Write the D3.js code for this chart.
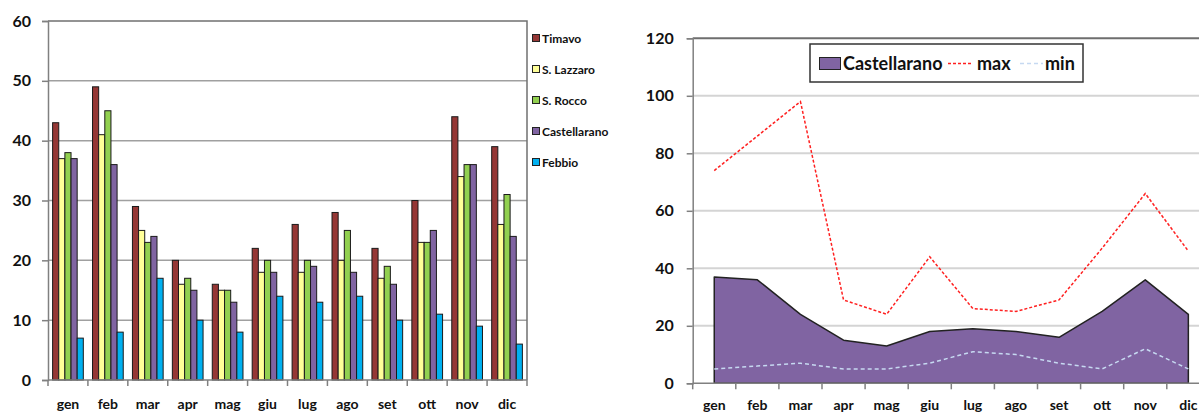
<!DOCTYPE html>
<html>
<head>
<meta charset="utf-8">
<script src="https://cdn.jsdelivr.net/npm/d3@7"></script>
<style>
  html, body { margin: 0; padding: 0; background: #fff; }
  svg { display: block; font-family: Lato, "Open Sans", sans-serif; font-weight: bold; }
</style>
</head>
<body>
<svg id="chart" width="1199" height="412"></svg>
<script>
// Monthly data per station
const months = ["gen", "feb", "mar", "apr", "mag", "giu", "lug", "ago", "set", "ott", "nov", "dic"];
const stations = ["Timavo", "S. Lazzaro", "S. Rocco", "Castellarano", "Febbio"];
const stationColors = ["#953735", "#FFFF99", "#92D050", "#8064A2", "#00B0F0"];

const timavo       = [43, 49, 29, 20, 16, 22, 26, 28, 22, 30, 44, 39];
const sLazzaro     = [37, 41, 25, 16, 15, 18, 18, 20, 17, 23, 34, 26];
const sRocco       = [38, 45, 23, 17, 15, 20, 20, 25, 19, 23, 36, 31];
const castellarano = [37, 36, 24, 15, 13, 18, 19, 18, 16, 25, 36, 24];
const febbio       = [7, 8, 17, 10, 8, 14, 13, 14, 10, 11, 9, 6];

// Castellarano extremes
const castMax = [74, 86, 98, 29, 24, 44, 26, 25, 29, 47, 66, 46];
const castMin = [5, 6, 7, 5, 5, 7, 11, 10, 7, 5, 12, 5];

const leftTicks = [0, 10, 20, 30, 40, 50, 60];
const rightTicks = [0, 20, 40, 60, 80, 100, 120];

const seriesValues = [timavo, sLazzaro, sRocco, castellarano, febbio];

const svg = d3.select("#chart");

// ---------- Left: grouped bar chart ----------
const L = { left: 48, right: 527, top: 21, bottom: 380 };
const xL = d3.scaleBand().domain(months).range([L.left, L.right]).padding(0);
const xLInner = d3.scaleBand().domain(stations).range([0, xL.bandwidth()]).paddingInner(0).paddingOuter(0.75);
const yL = d3.scaleLinear().domain([0, 60]).range([L.bottom, L.top]);

const gL = svg.append("g");

// gridlines
gL.append("g").selectAll("line").data(leftTicks.filter(t => t > 0 && t < 60)).join("line")
  .attr("x1", L.left).attr("x2", L.right)
  .attr("y1", d => yL(d)).attr("y2", d => yL(d))
  .attr("stroke", "#a0a0a0").attr("stroke-width", 1.5);

// plot border (top and right)
gL.append("path")
  .attr("d", `M${L.left},${yL(60)}H${L.right}V${L.bottom}`)
  .attr("fill", "none").attr("stroke", "#707070").attr("stroke-width", 1.5);

// bars
const barRows = months.map((m, i) => stations.map((s, j) => ({ m, s, j, v: seriesValues[j][i] })));
gL.append("g").selectAll("g").data(barRows).join("g")
  .attr("transform", d => `translate(${xL(d[0].m)},0)`)
  .selectAll("rect").data(d => d).join("rect")
  .attr("x", d => xLInner(d.s))
  .attr("width", xLInner.bandwidth())
  .attr("y", d => yL(d.v))
  .attr("height", d => yL(0) - yL(d.v))
  .attr("fill", d => stationColors[d.j])
  .attr("stroke", "#1a1a1a").attr("stroke-width", 1);

// y axis
const yAxisL = d3.axisLeft(yL).tickValues(leftTicks).tickSize(6).tickPadding(11);
const gyL = gL.append("g").attr("transform", `translate(${L.left},0)`).call(yAxisL);
gyL.select(".domain").attr("stroke", "#808080").attr("stroke-width", 1.5);
gyL.selectAll(".tick line").attr("stroke", "#808080").attr("stroke-width", 1.5);
gyL.selectAll("text").attr("font-size", 16).attr("fill", "#111").attr("font-family", "Lato, sans-serif");

// x axis with boundary ticks
const gxL = gL.append("g").attr("transform", `translate(0,${L.bottom})`);
gxL.append("line").attr("x1", L.left).attr("x2", L.right).attr("stroke", "#808080").attr("stroke-width", 1.5);
gxL.selectAll("line.b").data(months.concat(["_end"])).join("line").attr("class", "b")
  .attr("x1", (d, i) => L.left + i * xL.step()).attr("x2", (d, i) => L.left + i * xL.step())
  .attr("y1", 0).attr("y2", 6).attr("stroke", "#808080").attr("stroke-width", 1.5);
gxL.selectAll("text").data(months).join("text")
  .attr("x", d => xL(d) + xL.bandwidth() / 2).attr("y", 29)
  .attr("text-anchor", "middle").attr("font-size", 14).attr("fill", "#111")
  .text(d => d);

// legend
const legL = gL.append("g").attr("transform", "translate(532,38)");
const legItems = legL.selectAll("g").data(stations).join("g")
  .attr("transform", (d, i) => `translate(0,${i * 31})`);
legItems.append("rect").attr("x", 0.5).attr("y", -3.5).attr("width", 7).attr("height", 7)
  .attr("fill", (d, i) => stationColors[i]).attr("stroke", "#222").attr("stroke-width", 1);
legItems.append("text").attr("x", 10).attr("y", 4.5).attr("font-size", 12).attr("fill", "#111").text(d => d);

// ---------- Right: area with max/min lines ----------
const R = { left: 692.7, top: 38.3, bottom: 383.3, step: 43.1 };
const xR = d3.scaleBand().domain(months).range([R.left, R.left + R.step * months.length]).padding(0);
const yR = d3.scaleLinear().domain([0, 120]).range([R.bottom, R.top]);
const cx = m => xR(m) + xR.bandwidth() / 2;

const gR = svg.append("g");

gR.append("g").selectAll("line").data(rightTicks.filter(t => t > 0 && t < 120)).join("line")
  .attr("x1", R.left).attr("x2", xR.range()[1])
  .attr("y1", d => yR(d)).attr("y2", d => yR(d))
  .attr("stroke", "#d4d4d4").attr("stroke-width", 2);

gR.append("line").attr("x1", R.left).attr("x2", xR.range()[1])
  .attr("y1", yR(120)).attr("y2", yR(120))
  .attr("stroke", "#6e6e6e").attr("stroke-width", 2);

const area = d3.area()
  .x((d, i) => cx(months[i]))
  .y0(yR(0))
  .y1(d => yR(d));
gR.append("path").datum(castellarano).attr("d", area)
  .attr("fill", "#8064A2").attr("stroke", "#222").attr("stroke-width", 1.5).attr("stroke-linejoin", "round");

const line = d3.line().x((d, i) => cx(months[i])).y(d => yR(d));
gR.append("path").datum(castMin).attr("d", line)
  .attr("fill", "none").attr("stroke", "#C6D9F1").attr("stroke-width", 1.5).attr("stroke-dasharray", "4,3");
gR.append("path").datum(castMax).attr("d", line)
  .attr("fill", "none").attr("stroke", "#FF2020").attr("stroke-width", 1.5).attr("stroke-dasharray", "3,2");

// y axis
const yAxisR = d3.axisLeft(yR).tickValues(rightTicks).tickSize(6).tickPadding(13);
const gyR = gR.append("g").attr("transform", `translate(${R.left},0)`).call(yAxisR);
gyR.select(".domain").attr("stroke", "#808080").attr("stroke-width", 1.5);
gyR.selectAll(".tick line").attr("stroke", "#808080").attr("stroke-width", 1.5);
gyR.selectAll("text").attr("font-size", 16).attr("fill", "#111").attr("font-family", "Lato, sans-serif");

// x axis
const gxR = gR.append("g").attr("transform", `translate(0,${R.bottom})`);
gxR.append("line").attr("x1", R.left).attr("x2", xR.range()[1]).attr("stroke", "#808080").attr("stroke-width", 1.5);
gxR.selectAll("line.b").data(months.concat(["_end"])).join("line").attr("class", "b")
  .attr("x1", (d, i) => R.left + i * xR.step()).attr("x2", (d, i) => R.left + i * xR.step())
  .attr("y1", 0).attr("y2", 6).attr("stroke", "#808080").attr("stroke-width", 1.5);
gxR.selectAll("text").data(months).join("text")
  .attr("x", d => cx(d)).attr("y", 27)
  .attr("text-anchor", "middle").attr("font-size", 14).attr("fill", "#111")
  .text(d => d);

// legend box
const legR = gR.append("g").attr("transform", "translate(810,44)");
legR.append("rect").attr("x", 0).attr("y", 0).attr("width", 273).attr("height", 38)
  .attr("fill", "#fff").attr("stroke", "#333").attr("stroke-width", 1.5);
legR.append("rect").attr("x", 9.5).attr("y", 13.5).attr("width", 21).attr("height", 12)
  .attr("fill", "#8064A2").attr("stroke", "#222").attr("stroke-width", 1);
legR.append("text").attr("x", 33).attr("y", 26).attr("font-size", 18).attr("fill", "#111").text("Castellarano");
legR.append("line").attr("x1", 138).attr("x2", 162).attr("y1", 19.5).attr("y2", 19.5)
  .attr("stroke", "#FF2020").attr("stroke-width", 1.5).attr("stroke-dasharray", "3,2");
legR.append("text").attr("x", 167).attr("y", 26).attr("font-size", 18).attr("fill", "#111").text("max");
legR.append("line").attr("x1", 210).attr("x2", 233).attr("y1", 19.5).attr("y2", 19.5)
  .attr("stroke", "#C6D9F1").attr("stroke-width", 1.5).attr("stroke-dasharray", "4,3");
legR.append("text").attr("x", 235).attr("y", 26).attr("font-size", 18).attr("fill", "#111").text("min");
</script>
</body>
</html>
